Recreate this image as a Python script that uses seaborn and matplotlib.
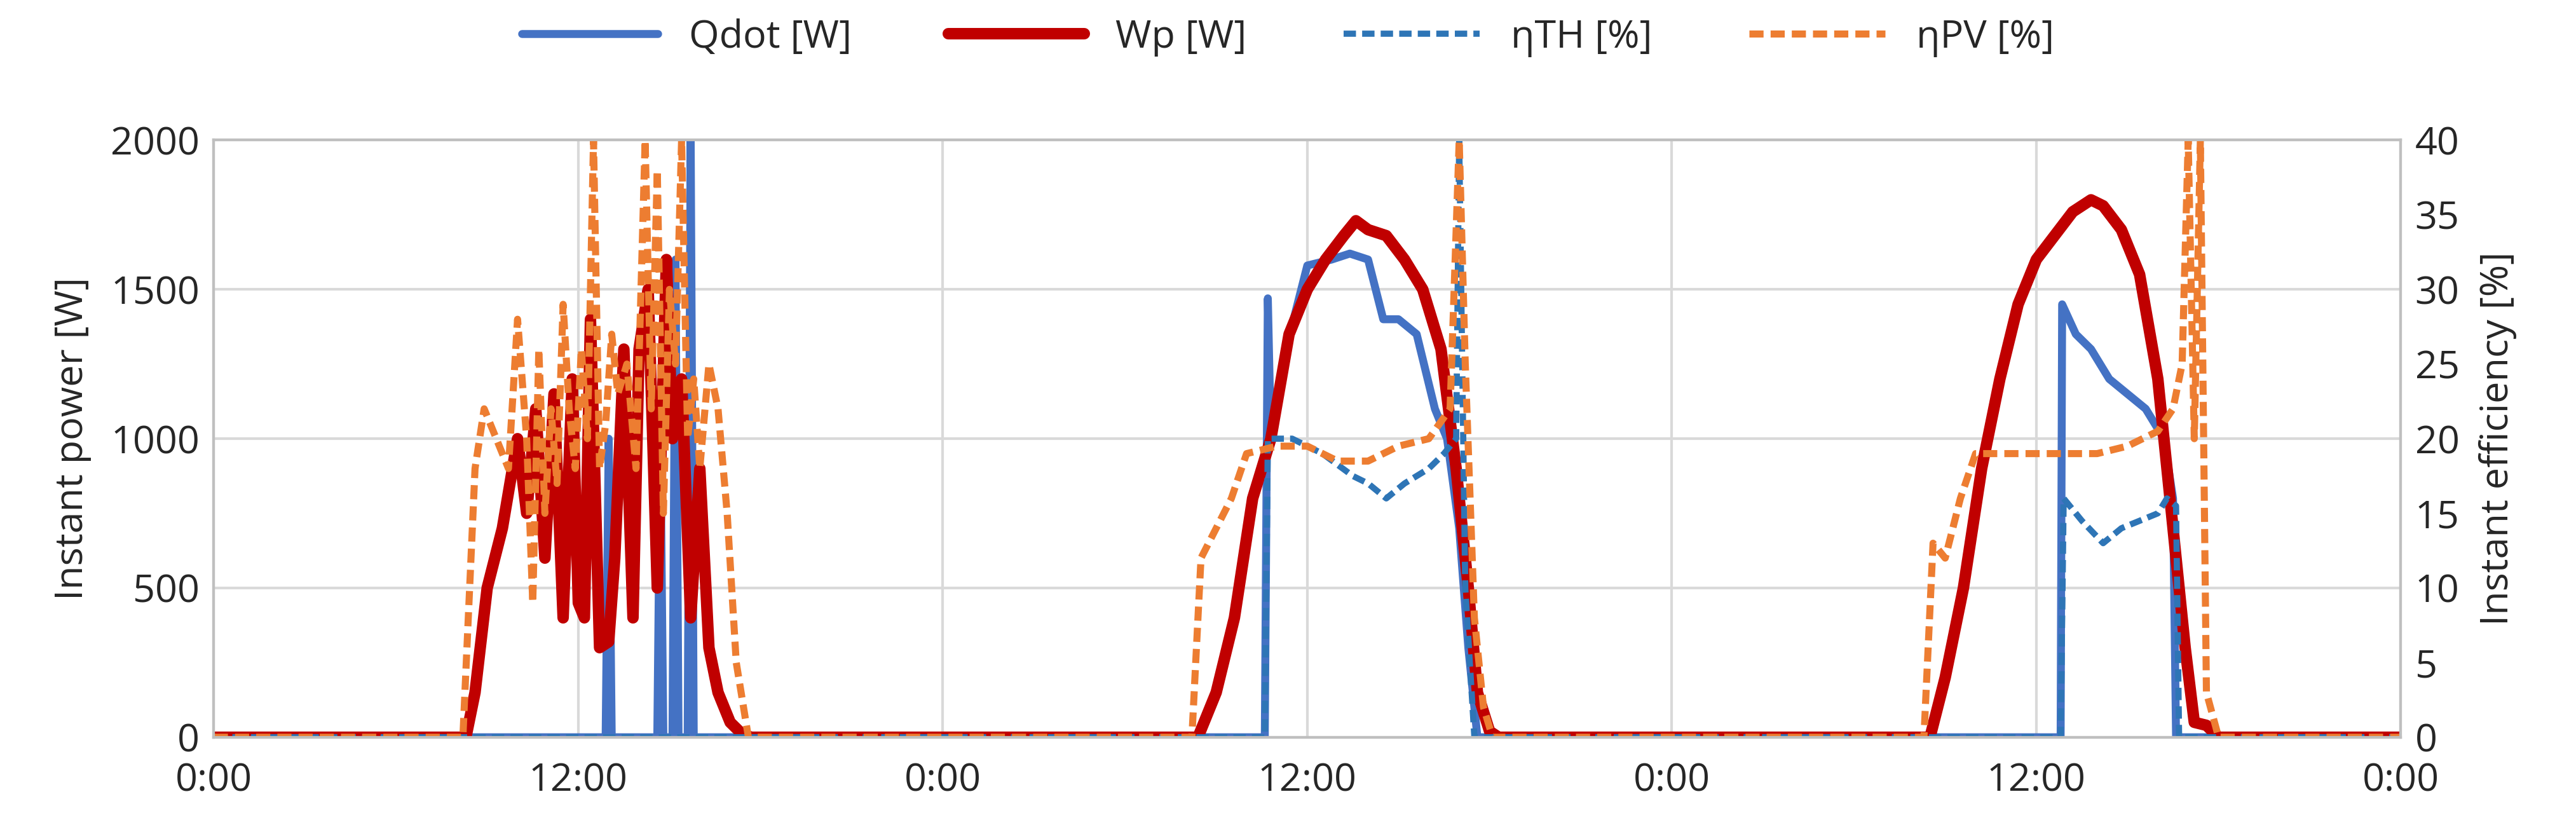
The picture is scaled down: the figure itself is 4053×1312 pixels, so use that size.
import matplotlib
matplotlib.use("Agg")
import matplotlib.pyplot as plt
import seaborn as sns
import pandas as pd

# time in hours
wp_t = [0,8.3,8.6,9.0,9.5,10.0,10.3,10.6,10.9,11.2,11.5,11.8,12.0,12.2,12.4,12.7,13.0,13.2,13.5,13.8,14.0,14.3,14.6,14.9,15.1,15.4,15.7,16.0,16.3,16.6,17.0,17.4,17.7,
        32.1,32.4,33.0,33.6,34.2,34.8,35.4,36.0,36.6,37.2,37.6,38.0,38.6,39.2,39.8,40.4,40.9,41.3,41.6,42.0,42.3,
        56.2,56.5,57.0,57.6,58.2,58.8,59.4,60.0,60.6,61.2,61.8,62.2,62.8,63.4,64.0,64.5,64.9,65.2,65.6,66.0,72]
wp_v = [0,0,150,500,700,1000,750,1100,600,1150,400,1200,450,400,1400,300,320,600,1300,400,1300,1500,500,1600,1000,1200,400,900,300,150,50,10,0,
        0,0,150,400,800,1000,1350,1500,1600,1680,1730,1700,1680,1600,1500,1300,900,500,150,20,0,
        0,0,200,500,900,1200,1450,1600,1680,1760,1800,1780,1700,1550,1200,700,300,50,40,0,0]
q_t = [0,12.9,13.0,13.1,14.6,14.7,14.8,15.1,15.2,15.3,15.6,15.7,15.8,34.6,34.7,34.8,35.3,36.0,36.8,37.4,38.0,38.5,39.0,39.6,40.2,40.6,41.0,41.3,41.6,56.0,
       60.8,60.85,61.3,61.8,62.4,63.0,63.6,64.2,64.5,64.6,72]
q_v = [0,0,1000,0,0,1000,0,0,1600,0,0,2000,0,0,1470,1000,1300,1580,1600,1620,1600,1400,1400,1350,1100,1000,700,300,0,0,
       0,1450,1350,1300,1200,1150,1100,1000,800,0,0]
th_t = [0,34.6,34.7,35.5,36.5,37.5,38.0,38.6,39.2,40.0,40.5,40.9,41.0,41.2,41.5,60.8,60.9,61.5,62.2,62.8,63.4,64.0,64.3,64.6,64.7,72]
th_v = [0,0,20,20,19,17.5,17,16,17,18,19,20,40,10,0,0,16,14.5,13,14,14.5,15,16,15.5,0,0]
pv_t = [0,8.2,8.6,8.9,9.3,9.7,10.0,10.3,10.5,10.7,10.9,11.1,11.3,11.5,11.7,11.9,12.1,12.3,12.5,12.7,12.9,13.1,13.3,13.6,13.9,14.2,14.4,14.6,14.8,15.0,15.2,15.4,15.6,15.8,16.0,16.3,16.6,16.9,17.2,17.6,
        32.2,32.5,33.0,33.5,34.0,35.0,36.0,37.0,38.0,39.0,40.0,40.7,41.0,41.2,41.5,41.8,42.1,
        56.3,56.6,57.0,57.5,58.0,59.0,60.0,61.0,62.0,63.0,64.0,64.5,64.8,65.0,65.2,65.4,65.6,66.0,72]
pv_v = [0,0,18,22,20,18,28,20,9,26,15,22,17,29,22,18,26,20,40,18,21,27,23,25,18,40,22,38,15,30,25,40,20,24,18,25,22,15,5,0,
        0,12,14,16,19,19.5,19.5,18.5,18.5,19.5,20,22,40,25,8,2,0,
        0,13,12,16,19,19,19,19,19,19.5,20.5,22,25,40,20,40,3,0,0]

sns.set_theme(style="white")
plt.rcParams['font.family'] = ['Open Sans', 'DejaVu Sans']
fig, ax = plt.subplots(figsize=(40.53, 13.12), dpi=100)
ax2 = ax.twinx()
blue, red, orange = "#4472C4", "#C00000", "#ED7D31"
sns.lineplot(data=pd.DataFrame({"t": q_t, "v": q_v}), x="t", y="v", ax=ax, color=blue, lw=9, label="Qdot [W]", legend=False)
sns.lineplot(data=pd.DataFrame({"t": wp_t, "v": wp_v}), x="t", y="v", ax=ax, color=red, lw=13, label="Wp [W]", legend=False)
sns.lineplot(data=pd.DataFrame({"t": th_t, "v": th_v}), x="t", y="v", ax=ax2, color="#2E75B6", lw=7, ls=(0, (2, 1)), label="ηTH [%]", legend=False)
sns.lineplot(data=pd.DataFrame({"t": pv_t, "v": pv_v}), x="t", y="v", ax=ax2, color=orange, lw=8, ls=(0, (2, 1)), label="ηPV [%]", legend=False)

ax.set_xlim(0, 72); ax.set_ylim(0, 2000); ax2.set_ylim(0, 40)
ax.set_xticks(range(0, 73, 12))
ax.set_xticklabels(["0:00", "12:00", "0:00", "12:00", "0:00", "12:00", "0:00"])
ax.set_yticks(range(0, 2001, 500)); ax2.set_yticks(range(0, 41, 5))
ax.grid(True, color="#D9D9D9", lw=3); ax.set_axisbelow(True)
for a in (ax, ax2):
    a.tick_params(labelsize=44, length=0, pad=16)
    for s in a.spines.values():
        s.set_color("#BFBFBF"); s.set_linewidth(3)
ax.tick_params(axis="x", pad=28)
ax.set_xlabel(""); ax2.set_xlabel("")
ax.set_ylabel("Instant power [W]", fontsize=44, labelpad=22)
ax2.set_ylabel("Instant efficiency [%]", fontsize=44, labelpad=22)
h1, l1 = ax.get_legend_handles_labels(); h2, l2 = ax2.get_legend_handles_labels()
fig.legend(h1 + h2, l1 + l2, loc="upper center", ncol=4, fontsize=44, frameon=False,
           bbox_to_anchor=(0.5, 1.02), handlelength=3.5, columnspacing=2.5)
ax.set_position([0.083, 0.116, 0.849, 0.716])
ax2.set_position(ax.get_position())
fig.savefig("out.png", dpi=100)
